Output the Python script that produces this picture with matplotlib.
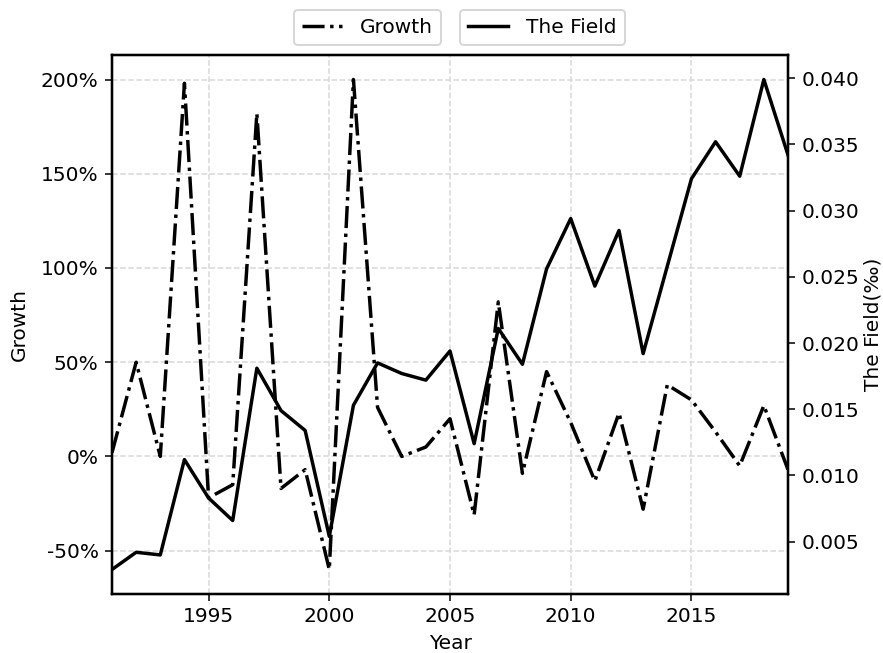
import numpy as np
import matplotlib
matplotlib.use('Agg')
import matplotlib.pyplot as plt
from matplotlib.ticker import FuncFormatter

# 数据
years = list(range(1991, 2020))
growth = [2, 50, 0, 198, -22, -15, 182, -17, -7, -60,
          200, 26, 0, 5, 20, -31, 82, -9, 45, 18,
          -13, 23, -28, 38, 30, 13, -5, 27, -7]
field = [0.0029, 0.0042, 0.0040, 0.0112, 0.0083, 0.0066, 0.0181, 0.0149, 0.0134, 0.0054,
         0.0153, 0.0185, 0.0177, 0.0172, 0.0194, 0.0124, 0.0211, 0.0184, 0.0256, 0.0294,
         0.0243, 0.0285, 0.0192, 0.0258, 0.0324, 0.0352, 0.0326, 0.0399, 0.0342]

plt.rcParams['font.size'] = 10.5

fig = plt.figure(figsize=(883 / 138, 653 / 138), dpi=138)
ax1 = fig.add_axes([112 / 883, 1 - 594 / 653, (788 - 112) / 883, (594 - 55) / 653])
ax2 = ax1.twinx()

# 左轴：增长率（点划线）
l1, = ax1.plot(years, growth, color='black', linestyle='-.', linewidth=1.8, label='Growth')
# 右轴：领域占比（实线）
l2, = ax2.plot(years, field, color='black', linestyle='-', linewidth=1.8, label='The Field')

ax1.set_xlim(1991, 2019)
ax1.yaxis.set_major_formatter(FuncFormatter(lambda x, _: f'{x:.0f}%'))
ax1.set_xlabel('Year')
ax1.set_ylabel('Growth', labelpad=6)
ax2.set_ylabel('The Field(‰)', labelpad=2)

for ax in (ax1, ax2):
    for s in ax.spines.values():
        s.set_linewidth(1.2)

ax1.grid(True, linestyle='--', color='#d9d9d9', linewidth=0.8)
ax1.set_axisbelow(True)

# 两个分开的图例框
ax1.legend(handles=[l1], loc='upper right', bbox_to_anchor=(441 / 883, 1 - 10 / 653),
           bbox_transform=fig.transFigure, borderaxespad=0, handletextpad=0.9)
ax2.legend(handles=[l2], loc='upper left', bbox_to_anchor=(460 / 883, 1 - 10 / 653),
           bbox_transform=fig.transFigure, borderaxespad=0, handletextpad=0.9)

fig.savefig('out.png', dpi=138)
